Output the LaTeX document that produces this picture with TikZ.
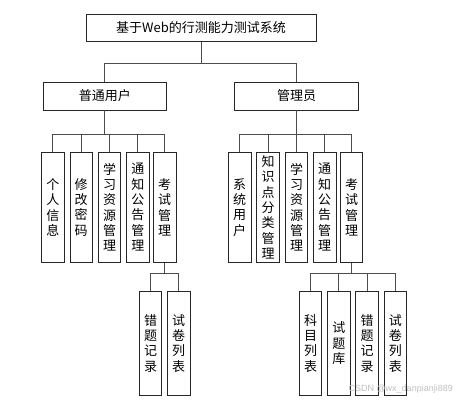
\documentclass[tikz,border=0pt]{standalone}
\usepackage{fontspec}
\newfontfamily\cjk{Noto Sans CJK SC}
\newfontfamily\wmfont{Liberation Sans}
\begin{document}
\begin{tikzpicture}[x=1pt,y=-1pt,
  every node/.style={font=\cjk\fontsize{13}{15.3}\selectfont},
  hbox/.style={draw=black!85,line width=0.8pt,fill=white,inner sep=0pt,minimum height=28pt},
  vbox/.style={draw=black!85,line width=0.8pt,fill=white,inner sep=0pt,minimum width=22.5pt,align=center,text width=14pt},
  leafA/.style={vbox,minimum height=110.7pt},
  leafB/.style={vbox,minimum height=104.7pt},
  conn/.style={draw=black!70,line width=0.8pt}]
\useasboundingbox (0,0) rectangle (457,402);
% bus levels
\coordinate (b1) at (0,63);
\coordinate (b2) at (0,134.7);
\coordinate (b3) at (0,273.3);
% top
\node[hbox,minimum width=230pt,minimum height=27.7pt] (top) at (201,27.8) {基于Web的行测能力测试系统};
\node[hbox,minimum width=123.5pt] (u) at (104.8,96) {普通用户};
\node[hbox,minimum width=123.5pt] (a) at (296.5,96) {管理员};
% user leaves
\node[leafA] (u1) at (52.8,207.3) {个\\人\\信\\息};
\node[leafA] (u2) at (81.2,207.3) {修\\改\\密\\码};
\node[leafA] (u3) at (109.5,207.3) {学\\习\\资\\源\\管\\理};
\node[leafA] (u4) at (137.8,207.3) {通\\知\\公\\告\\管\\理};
\node[leafA] (u5) at (164.7,207.3) {考\\试\\管\\理};
% admin leaves
\node[leafA] (a1) at (239.7,207.3) {系\\统\\用\\户};
\node[leafA] (a2) at (268,207.3) {知\\识\\点\\分\\类\\管\\理};
\node[leafA] (a3) at (296.5,207.3) {学\\习\\资\\源\\管\\理};
\node[leafA] (a4) at (324.7,207.3) {通\\知\\公\\告\\管\\理};
\node[leafA] (a5) at (351.6,207.3) {考\\试\\管\\理};
% user exam children
\node[leafB] (ue1) at (150.5,343.3) {错\\题\\记\\录};
\node[leafB] (ue2) at (178.7,343.3) {试\\卷\\列\\表};
% admin exam children
\node[leafB] (ae1) at (310.5,343.3) {科\\目\\列\\表};
\node[leafB] (ae2) at (338.8,343.3) {试\\题\\库};
\node[leafB] (ae3) at (367,343.3) {错\\题\\记\\录};
\node[leafB] (ae4) at (395.3,343.3) {试\\卷\\列\\表};
% connectors
\foreach \c in {u,a} \draw[conn] (top.south) -- (top.south |- b1) -| (\c.north);
\foreach \c in {u1,u2,u3,u4,u5} \draw[conn] (u.south) -- (u.south |- b2) -| (\c.north);
\foreach \c in {a1,a2,a3,a4,a5} \draw[conn] (a.south) -- (a.south |- b2) -| (\c.north);
\foreach \c in {ue1,ue2} \draw[conn] (u5.south) -- (u5.south |- b3) -| (\c.north);
\foreach \c in {ae1,ae2,ae3,ae4} \draw[conn] (a5.south) -- (a5.south |- b3) -| (\c.north);
% watermark
\node[font=\wmfont\fontsize{9}{10}\selectfont,text=black!25,anchor=east,inner sep=0pt] (wm) at (453,389.3) {CSDN @wx\_danpianji889};
\end{tikzpicture}
\end{document}
